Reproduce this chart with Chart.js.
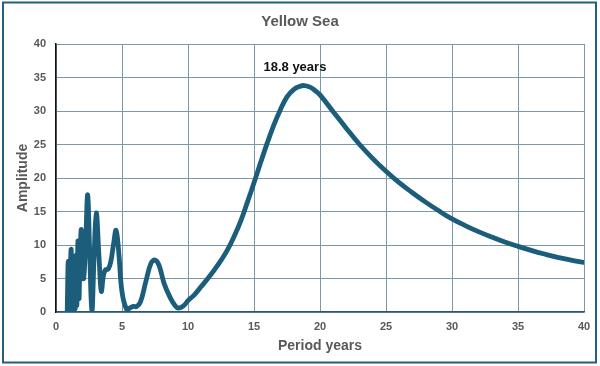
<!DOCTYPE html>
<html>
<head>
<meta charset="utf-8">
<script src="https://cdn.jsdelivr.net/npm/chart.js@4.4.1/dist/chart.umd.min.js"></script>
<style>
  html, body { margin: 0; padding: 0; background: #ffffff; }
  #wrap { position: relative; width: 600px; height: 366px; }
  canvas { display: block; }
</style>
</head>
<body>
<div id="wrap"><canvas id="c" width="600" height="366"></canvas></div>
<script>
// ---- Data ----
const chartTitle = "Yellow Sea";
const xAxisTitle = "Period years";
const yAxisTitle = "Amplitude";

const periodYears = [
  0.85, 0.93, 1.00, 1.07, 1.15, 1.22, 1.28, 1.34, 1.40, 1.46, 1.52, 1.58, 1.66, 1.74, 1.82, 1.92,
  2.02, 2.10, 2.25, 2.40, 2.55, 2.72, 2.88, 3.05, 3.25, 3.43, 3.60, 3.75, 3.95, 4.15, 4.35, 4.55,
  4.75, 5.00, 5.35, 5.60, 5.85, 6.10, 6.40, 6.80, 7.20, 7.50, 7.80, 8.20, 8.64, 9.00, 9.27, 9.70,
  10.0, 10.5, 11.0, 11.5, 12.0, 12.5, 13.0, 13.5, 14.0, 14.5, 15.0, 15.5, 16.0, 16.5, 17.0, 17.5,
  18.0, 18.5, 18.8, 19.2, 19.6, 20.0, 21.0, 22.0, 23.0, 24.0, 25.0, 26.0, 27.0, 28.0, 29.0, 30.0,
  31.0, 32.0, 33.0, 34.0, 35.0, 36.0, 37.0, 38.0, 39.0, 40.0
];
const amplitude = [
  0.2, 7.6, 0.2, 5.0, 9.3, 0.2, 6.5, 0.3, 7.8, 0.5, 8.5, 1.0, 10.6, 2.0, 8.0, 12.3,
  6.0, 5.0, 10.5, 17.5, 9.0, 0.1, 8.0, 14.8, 8.5, 3.1, 5.5, 6.3, 6.4, 7.5, 10.0, 12.2,
  9.0, 3.0, 0.4, 0.6, 0.85, 0.8, 1.5, 4.5, 7.3, 7.75, 7.0, 4.2, 2.2, 1.0, 0.6, 1.0,
  1.7, 2.6, 3.8, 5.0, 6.3, 7.7, 9.3, 11.3, 13.6, 16.4, 19.3, 22.3, 25.2, 27.9, 30.2, 32.1,
  33.2, 33.7, 33.8, 33.6, 33.1, 32.4, 29.9, 27.4, 25.0, 22.9, 21.0, 19.3, 17.8, 16.4, 15.1, 13.9,
  12.9, 12.0, 11.2, 10.45, 9.8, 9.2, 8.65, 8.15, 7.75, 7.4
];

const xTickValues = [0, 5, 10, 15, 20, 25, 30, 35, 40];
const yTickValues = [0, 5, 10, 15, 20, 25, 30, 35, 40];

const annotationText = ["18.8 years"];
const annotationX = [18.1];
const annotationY = [36.5];

// ---- Chart ----
const points = periodYears.map((p, i) => ({ x: p, y: amplitude[i] }));

const GRID = '#7b98a7';
const TXT = '#595959';
const LINE = '#1c5d7c';

const decorPlugin = {
  id: 'decor',
  beforeDraw(chart) {
    const ctx = chart.ctx;
    ctx.save();
    ctx.fillStyle = '#ffffff';
    ctx.fillRect(0, 0, chart.width, chart.height);
    ctx.restore();
  },
  afterDraw(chart) {
    const ctx = chart.ctx;
    ctx.save();
    // outer frame
    ctx.strokeStyle = '#23607f';
    ctx.lineWidth = 2;
    ctx.strokeRect(3, 2.5, 593, 360);
    // title
    ctx.fillStyle = TXT;
    ctx.font = 'bold 15px "Liberation Sans", Arial, sans-serif';
    ctx.textAlign = 'center';
    ctx.textBaseline = 'middle';
    ctx.fillText(chartTitle, 300, 21.5);
    // annotation
    const xs = chart.scales.x, ys = chart.scales.y;
    ctx.fillStyle = '#111111';
    ctx.font = 'bold 13px "Liberation Sans", Arial, sans-serif';
    annotationText.forEach((t, i) => {
      ctx.fillText(t, xs.getPixelForValue(annotationX[i]), ys.getPixelForValue(annotationY[i]));
    });
    ctx.restore();
  }
};

new Chart(document.getElementById('c'), {
  type: 'scatter',
  data: {
    datasets: [{
      data: points,
      showLine: true,
      borderColor: LINE,
      backgroundColor: LINE,
      borderWidth: 4.8,
      pointRadius: 0,
      tension: 0.4,
      borderCapStyle: 'round',
      borderJoinStyle: 'round'
    }]
  },
  options: {
    responsive: false,
    animation: false,
    devicePixelRatio: 1,
    layout: { padding: { top: 44, right: 16, bottom: 0, left: 0 } },
    plugins: {
      legend: { display: false },
      tooltip: { enabled: false },
      title: { display: false }
    },
    scales: {
      x: {
        type: 'linear',
        min: 0, max: 40,
        afterBuildTicks(scale) { scale.ticks = xTickValues.map(v => ({ value: v })); },
        afterFit(scale) { scale.height = 54; },
        grid: { color: GRID, lineWidth: 1, drawTicks: false },
        border: { display: true, color: '#2a5870', width: 1.5 },
        ticks: {
          color: TXT, padding: 8,
          font: { family: '"Liberation Sans", Arial, sans-serif', size: 11, weight: 'bold' }
        },
        title: {
          display: true, text: xAxisTitle, color: TXT,
          padding: { top: 0, bottom: 11 },
          font: { family: '"Liberation Sans", Arial, sans-serif', size: 14, weight: 'bold' }
        }
      },
      y: {
        type: 'linear',
        min: 0, max: 40,
        afterBuildTicks(scale) { scale.ticks = yTickValues.map(v => ({ value: v })); },
        afterFit(scale) { scale.width = 56; },
        grid: { color: GRID, lineWidth: 1, drawTicks: false },
        border: { display: true, color: '#111111', width: 1.5 },
        ticks: {
          color: TXT, padding: 10,
          font: { family: '"Liberation Sans", Arial, sans-serif', size: 11, weight: 'bold' }
        },
        title: {
          display: true, text: yAxisTitle, color: TXT,
          padding: { top: 15, bottom: 0 },
          font: { family: '"Liberation Sans", Arial, sans-serif', size: 14, weight: 'bold' }
        }
      }
    }
  },
  plugins: [decorPlugin]
});
</script>
</body>
</html>
